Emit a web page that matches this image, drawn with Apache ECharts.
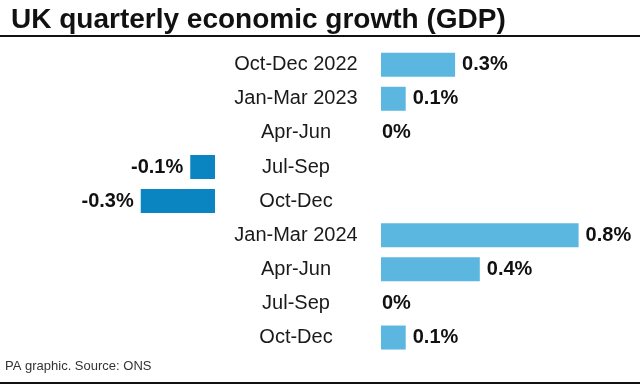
<!DOCTYPE html>
<html>
<head>
<meta charset="utf-8">
<script src="https://cdn.jsdelivr.net/npm/echarts@6/dist/echarts.min.js"></script>
<style>html,body{margin:0;padding:0;background:#fff}#c{width:640px;height:384px}</style>
</head>
<body>
<div id="c"></div>
<script>
var categories = ['Oct-Dec 2022','Jan-Mar 2023','Apr-Jun','Jul-Sep','Oct-Dec','Jan-Mar 2024','Apr-Jun','Jul-Sep','Oct-Dec'];
var values = [0.3, 0.1, 0, -0.1, -0.3, 0.8, 0.4, 0, 0.1];
var titleText = 'UK quarterly economic growth (GDP)';
var sourceText = 'PA graphic. Source: ONS';

var FONT = '"Liberation Sans", Arial, sans-serif';
var posData = values.map(function (v) {
  if (v > 0) return v;
  if (v === 0) return { value: 0, label: { distance: 1 } };
  return '-';
});
var negData = values.map(function (v) { return v < 0 ? v : '-'; });

var chart = echarts.init(document.getElementById('c'), null, { renderer: 'canvas' });
var gridTop = 47.6, gridBottom = 29.4;
chart.setOption({
  animation: false,
  title: {
    text: titleText, left: 6, top: 1,
    textStyle: { fontFamily: FONT, fontSize: 28, fontWeight: 'bold', color: '#111' }
  },
  grid: [
    { left: 381, right: 12, top: gridTop, bottom: gridBottom },
    { left: 116, right: 425, top: gridTop, bottom: gridBottom }
  ],
  xAxis: [
    { gridIndex: 0, type: 'value', min: 0, max: 1, show: false, splitLine: { show: false } },
    { gridIndex: 1, type: 'value', min: -0.4, max: 0, show: false, splitLine: { show: false } }
  ],
  yAxis: [
    { gridIndex: 0, type: 'category', data: categories, inverse: true,
      axisLine: { show: false }, axisTick: { show: false },
      axisLabel: { align: 'center', margin: 85, fontFamily: FONT, fontSize: 20, color: '#1a1a1a' } },
    { gridIndex: 1, type: 'category', data: categories, inverse: true, show: false }
  ],
  series: [
    { type: 'bar', xAxisIndex: 0, yAxisIndex: 0, data: posData, barWidth: 24,
      itemStyle: { color: '#5bb7df' },
      label: { show: true, position: 'right', distance: 7, formatter: '{c}%',
        fontFamily: FONT, fontSize: 20, fontWeight: 'bold', color: '#111' } },
    { type: 'bar', xAxisIndex: 1, yAxisIndex: 1, data: negData, barWidth: 24,
      itemStyle: { color: '#0a85c2' },
      label: { show: true, position: 'left', distance: 7, formatter: '{c}%',
        fontFamily: FONT, fontSize: 20, fontWeight: 'bold', color: '#111' } }
  ],
  graphic: [
    { type: 'line', shape: { x1: 0, y1: 36, x2: 640, y2: 36 }, style: { stroke: '#111', lineWidth: 2 } },
    { type: 'line', shape: { x1: 0, y1: 383, x2: 640, y2: 383 }, style: { stroke: '#111', lineWidth: 2 } },
    { type: 'text', left: 5, top: 360, style: { text: sourceText, font: '13px ' + FONT, fill: '#333' } }
  ]
});
</script>
</body>
</html>
